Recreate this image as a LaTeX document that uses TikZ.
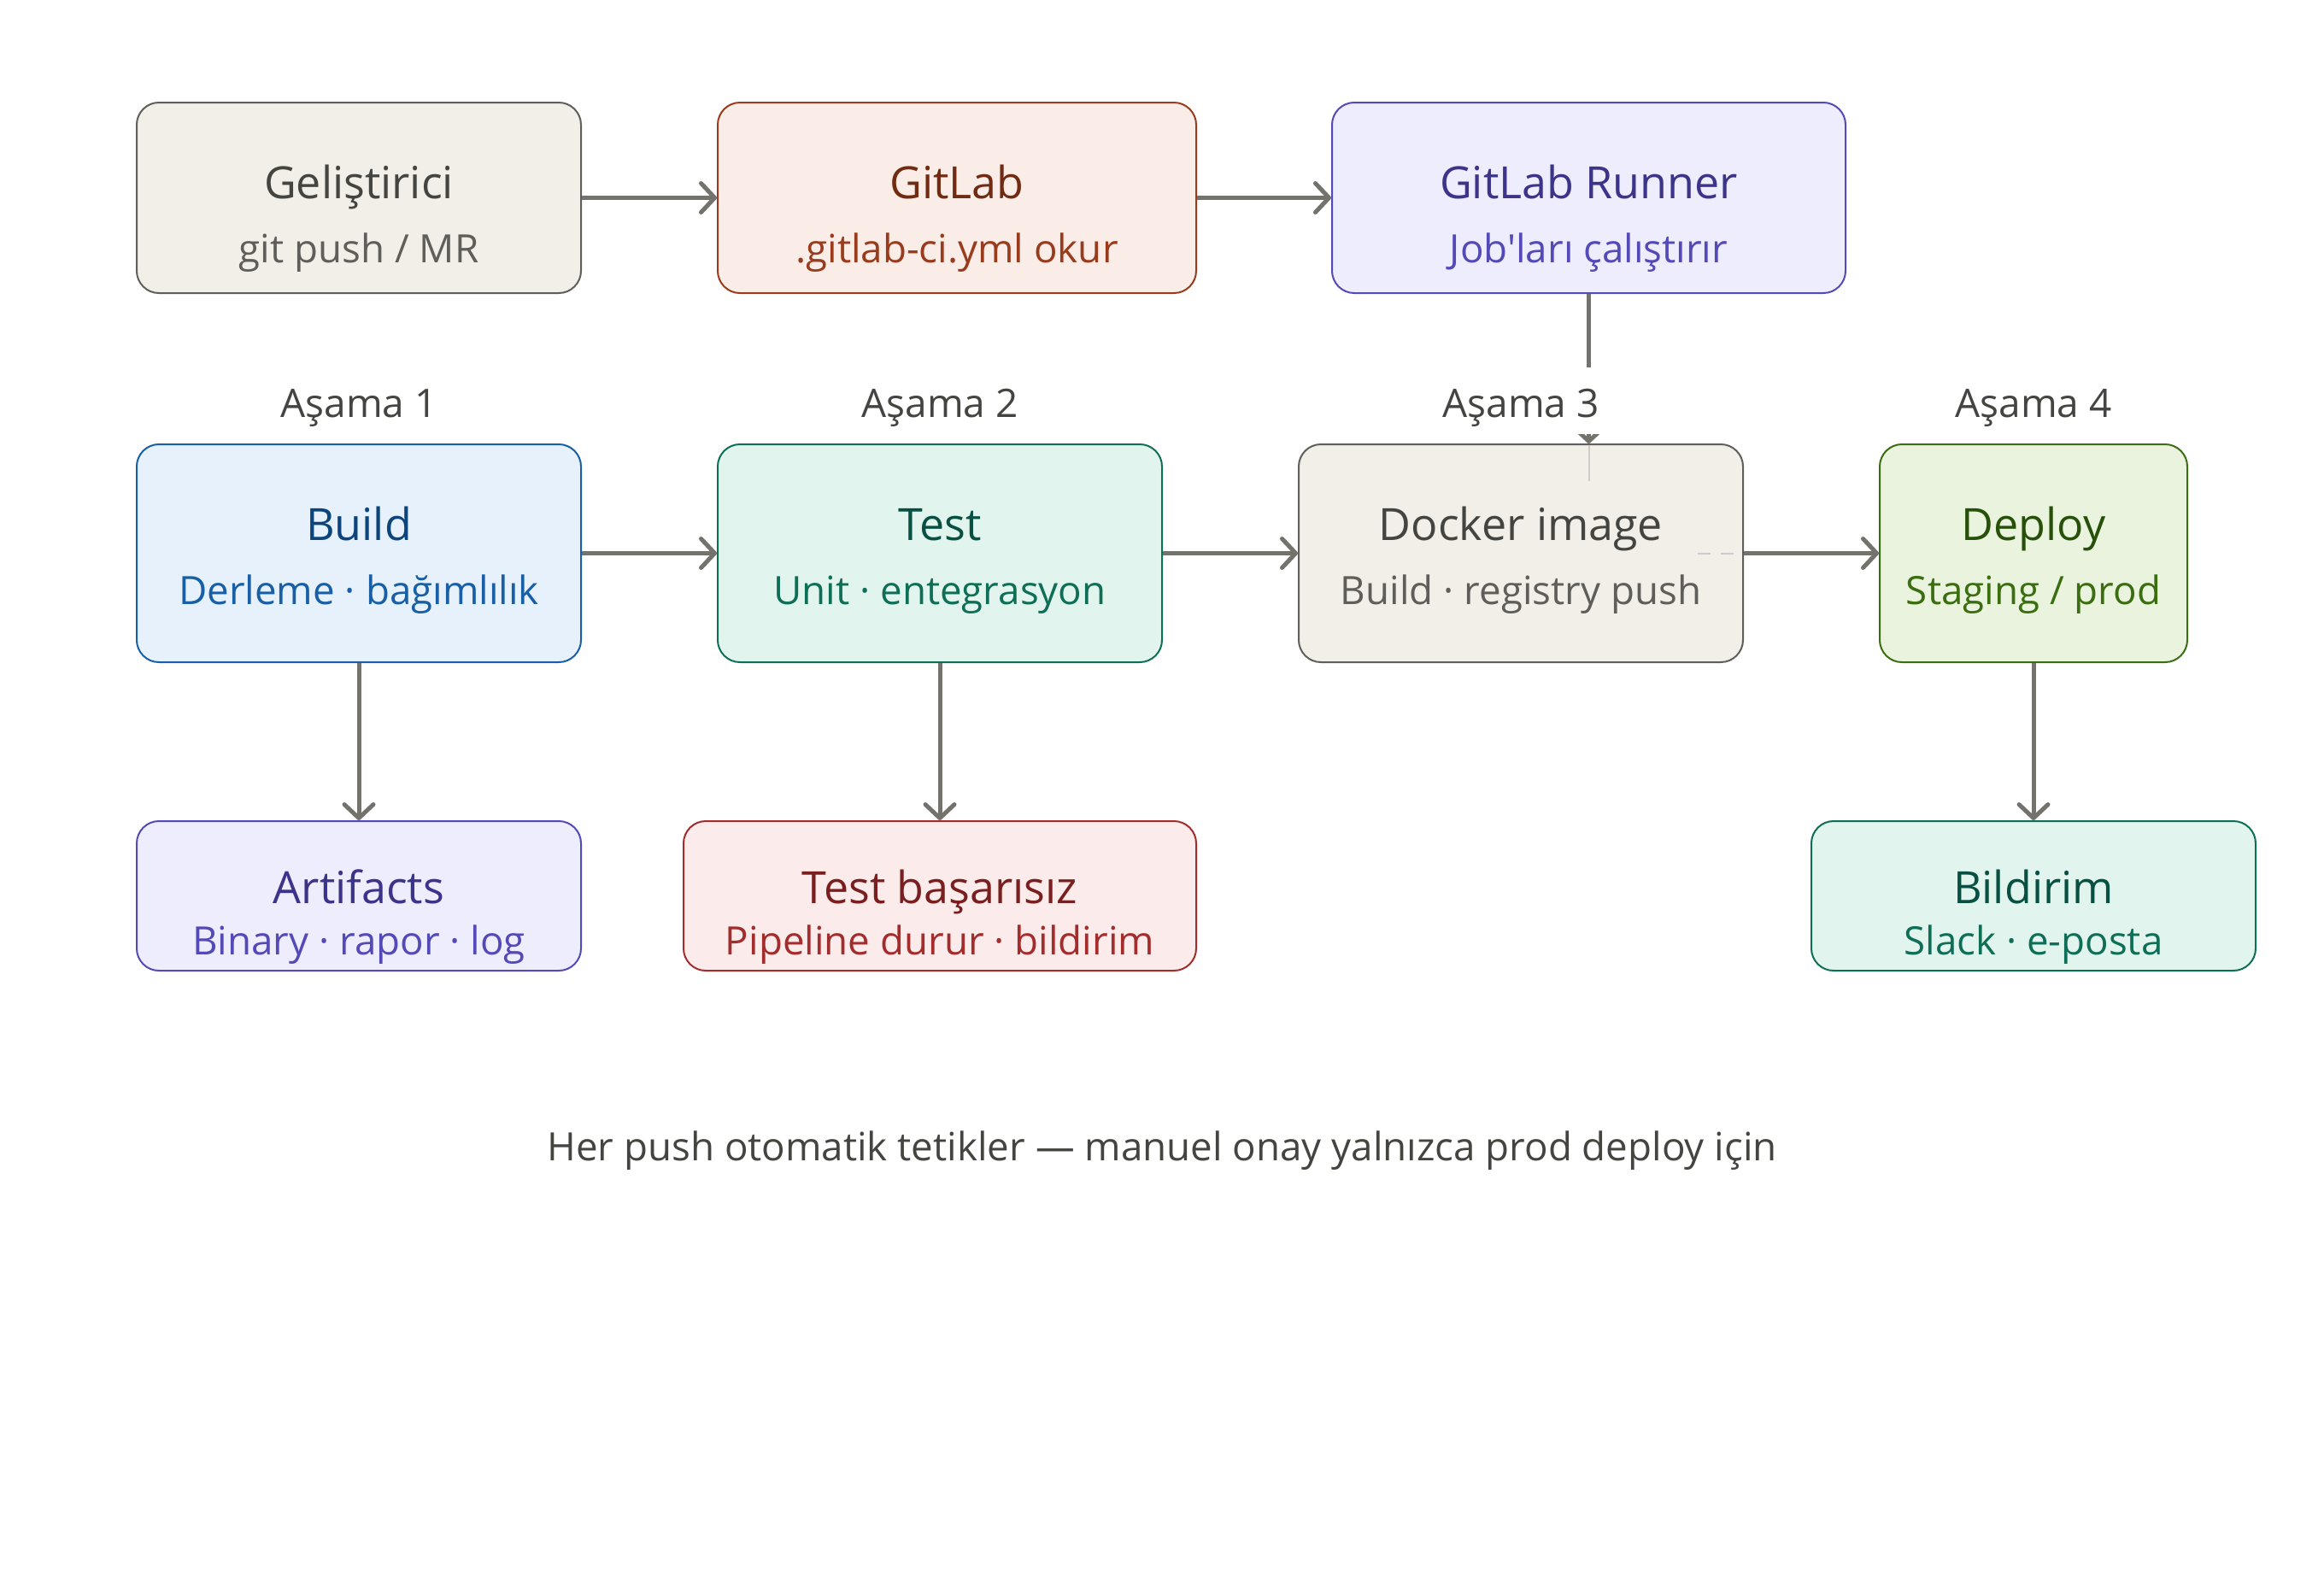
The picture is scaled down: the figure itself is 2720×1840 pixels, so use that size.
\documentclass[tikz,border=0pt]{standalone}
\usepackage{fontspec}
\setmainfont{Open Sans}[Ligatures=TeXOff]
\usetikzlibrary{arrows.meta}
\definecolor{cgray}{HTML}{73726C}
\definecolor{grayF}{HTML}{F1EFE8}\definecolor{grayD}{HTML}{5F5E5A}\definecolor{grayT}{HTML}{444441}
\definecolor{coralF}{HTML}{FAECE7}\definecolor{coralD}{HTML}{993C1D}\definecolor{coralT}{HTML}{712B13}
\definecolor{purpF}{HTML}{EEEDFE}\definecolor{purpD}{HTML}{534AB7}\definecolor{purpT}{HTML}{3C3489}
\definecolor{blueF}{HTML}{E6F1FB}\definecolor{blueD}{HTML}{185FA5}\definecolor{blueT}{HTML}{0C447C}
\definecolor{tealF}{HTML}{E1F5EE}\definecolor{tealD}{HTML}{0F6E56}\definecolor{tealT}{HTML}{085041}
\definecolor{greenF}{HTML}{EAF3DE}\definecolor{greenD}{HTML}{3B6D11}\definecolor{greenT}{HTML}{27500A}
\definecolor{redF}{HTML}{FCEBEB}\definecolor{redD}{HTML}{A32D2D}\definecolor{redT}{HTML}{791F1F}
\begin{document}
\begin{tikzpicture}[x=1pt,y=-1pt,
  box/.style={rectangle,rounded corners=26pt,line width=2pt,inner sep=0pt},
  gbox/.style={box,fill=grayF,draw=grayD},
  cbox/.style={box,fill=coralF,draw=coralD},
  pbox/.style={box,fill=purpF,draw=purpD},
  bbox/.style={box,fill=blueF,draw=blueD},
  tbox/.style={box,fill=tealF,draw=tealD},
  vbox/.style={box,fill=greenF,draw=greenD},
  rbox/.style={box,fill=redF,draw=redD},
  ttl/.style={anchor=base,inner sep=0pt,font=\fontsize{52}{60}\selectfont},
  sub/.style={anchor=base,inner sep=0pt,font=\fontsize{45.7}{52}\selectfont},
  lbl/.style={anchor=base,fill=white,text=grayT,text height=48pt,text depth=10pt,inner xsep=10pt,inner ysep=10pt,font=\fontsize{46}{52}\selectfont},
  conn/.style={draw=cgray,line width=5pt,-{Straight Barb[length=16pt,width=34pt,round]}},
  faint/.style={draw=black!20,line width=2pt}]
\useasboundingbox[fill=white] (0,0) rectangle (2720,1840);
% row 1
\node[gbox,minimum width=520pt,minimum height=223pt] (dev) at (420,231.5) {};
\node[cbox,minimum width=560pt,minimum height=223pt] (gl) at (1120,231.5) {};
\node[pbox,minimum width=601pt,minimum height=223pt] (run) at (1859.5,231.5) {};
\node[ttl,text=grayT] (devT) at (420,232) {Geliştirici};
\node[sub,text=grayD] (devS) at (420,307) {git push / MR};
\node[ttl,text=coralT] (glT) at (1120,232) {GitLab};
\node[sub,text=coralD] (glS) at (1120,307) {.gitlab-ci.yml okur};
\node[ttl,text=purpT] (runT) at (1859.5,232) {GitLab Runner};
\node[sub,text=purpD] (runS) at (1859.5,307) {Job'ları çalıştırır};
% row 2
\node[bbox,minimum width=520pt,minimum height=255pt] (build) at (420,647.5) {};
\node[tbox,minimum width=520pt,minimum height=255pt] (test) at (1100,647.5) {};
\node[gbox,minimum width=520pt,minimum height=255pt] (dock) at (1780,647.5) {};
\node[vbox,minimum width=360pt,minimum height=255pt] (dep) at (2380,647.5) {};
\node[ttl,text=blueT] (buildT) at (420,632) {Build};
\node[sub,text=blueD] (buildS) at (420,707) {Derleme · bağımlılık};
\node[ttl,text=tealT] (testT) at (1100,632) {Test};
\node[sub,text=tealD] (testS) at (1100,707) {Unit · entegrasyon};
\node[ttl,text=grayT] (dockT) at (1780,632) {Docker image};
\node[sub,text=grayD] (dockS) at (1780,707) {Build · registry push};
\node[ttl,text=greenT] (depT) at (2380,632) {Deploy};
\node[sub,text=greenD] (depS) at (2380,707) {Staging / prod};
% row 3
\node[pbox,minimum width=520pt,minimum height=175pt] (art) at (420,1048.5) {};
\node[rbox,minimum width=600pt,minimum height=175pt] (fail) at (1100,1048.5) {};
\node[tbox,minimum width=520pt,minimum height=175pt] (bild) at (2380,1048.5) {};
\node[ttl,text=purpT] (artT) at (420,1057) {Artifacts};
\node[sub,text=purpD] (artS) at (420,1117) {Binary · rapor · log};
\node[ttl,text=redT] (failT) at (1100,1057) {Test başarısız};
\node[sub,text=redD] (failS) at (1100,1117) {Pipeline durur · bildirim};
\node[ttl,text=tealT] (bildT) at (2380,1057) {Bildirim};
\node[sub,text=tealD] (bildS) at (2380,1117) {Slack · e-posta};
% faint remnants
\draw[faint] (run.south |- dock.north) ++(0,2) -- ++(0,42);
\draw[faint,dash pattern=on 15pt off 12pt] (dock.east) ++(-54,0) -- ++(44,0);
% connectors
\draw[conn] (dev) -- (gl);
\draw[conn] (gl) -- (run);
\draw[conn] (build) -- (test);
\draw[conn] (test) -- (dock);
\draw[conn] (dock) -- (dep);
\draw[conn] (build) -- (art);
\draw[conn] (test) -- (fail);
\draw[conn] (dep) -- (bild);
\draw[conn] (run.south) -- (run.south |- dock.north);
% stage labels
\node[lbl] (s1) at (420,488) {Aşama 1};
\node[lbl] (s2) at (1100,488) {Aşama 2};
\node[lbl] (s3) at (1780,488) {Aşama 3};
\node[lbl] (s4) at (2380,488) {Aşama 4};
% footer
\node[anchor=base,text=grayT,font=\fontsize{45.7}{52}\selectfont] (foot) at (1360,1358) {Her push otomatik tetikler — manuel onay yalnızca prod deploy için};
\end{tikzpicture}
\end{document}
